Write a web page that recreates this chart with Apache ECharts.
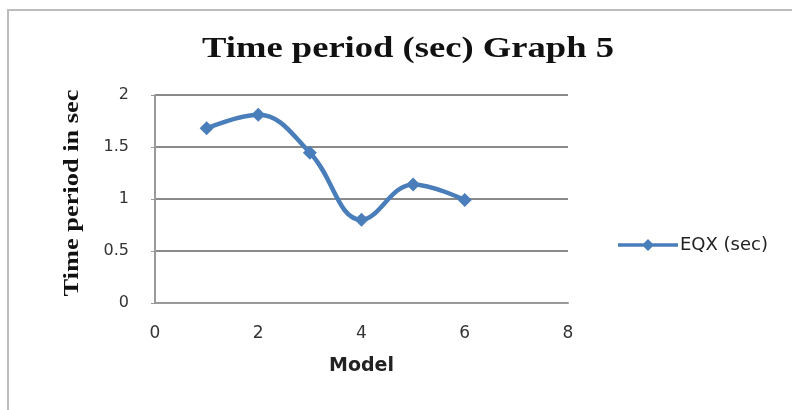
<!DOCTYPE html>
<html><head><meta charset="utf-8">
<script src="https://cdn.jsdelivr.net/npm/echarts@6/dist/echarts.min.js"></script>
<style>html,body{margin:0;padding:0;background:#fff}#c{width:792px;height:410px}</style>
</head><body><div id="c"></div>
<script>
const models = [1, 2, 3, 4, 5, 6];
const eqx = [1.68, 1.81, 1.445, 0.80, 1.14, 0.99];
const seriesName = 'EQX (sec)';
const titleText = 'Time period (sec) Graph 5';
const yName = 'Time period in sec';
const xName = 'Model';

const color = '#4a7ebb';
const chart = echarts.init(document.getElementById('c'), null, {renderer: 'canvas'});
chart.setOption({
  animation: false,
  backgroundColor: '#fff',
  graphic: [
    {type: 'rect', shape: {x: 8, y: 10, width: 800, height: 420},
     style: {fill: 'none', stroke: '#bdbdbd', lineWidth: 2}, silent: true},
    {type: 'text', x: 408, y: 49, scaleX: 1.22, silent: true,
     style: {text: titleText, align: 'center', verticalAlign: 'middle',
             font: 'bold 30px "Liberation Serif"', fill: '#111'}},
    {type: 'text', x: 72, y: 193, rotation: Math.PI / 2, scaleX: 1.2, silent: true,
     style: {text: yName, align: 'center', verticalAlign: 'middle',
             font: 'bold 22px "Liberation Serif"', fill: '#111'}}
  ],
  legend: {
    left: 613, top: 231, itemWidth: 60, itemHeight: 12,
    data: [{name: seriesName, icon: 'path://M0,4.2 L60,4.2 L60,7.8 L0,7.8 Z M30,0 L36,6 L30,12 L24,6 Z'}],
    textStyle: {fontFamily: 'DejaVu Sans', fontSize: 18, color: '#222', padding: [0, 0, 0, -3]}
  },
  grid: {left: 155, top: 95, width: 413, height: 208, containLabel: false},
  xAxis: {
    type: 'value', min: 0, max: 8, interval: 2,
    name: xName, nameLocation: 'middle', nameGap: 28,
    nameTextStyle: {fontFamily: 'DejaVu Sans', fontWeight: 'bold', fontSize: 19, color: '#222', padding: [26, 0, 0, 0]},
    axisLine: {show: true, lineStyle: {color: '#999', width: 2}},
    axisTick: {show: false},
    axisLabel: {fontFamily: 'DejaVu Sans', fontSize: 17, color: '#333', margin: 22},
    splitLine: {show: false}
  },
  yAxis: {
    type: 'value', min: 0, max: 2, interval: 0.5,
    axisLine: {show: true, lineStyle: {color: '#999', width: 2}},
    axisTick: {show: true, length: 4, inside: false, lineStyle: {color: '#999'}},
    axisLabel: {fontFamily: 'DejaVu Sans', fontSize: 16, color: '#333', margin: 26},
    splitLine: {show: true, lineStyle: {color: '#8a8a8a', width: 2}}
  },
  series: [{
    name: seriesName, type: 'line', smooth: 0.4,
    data: models.map((m, i) => [m, eqx[i]]),
    symbol: 'diamond', symbolSize: 14,
    lineStyle: {color: color, width: 4.5},
    itemStyle: {color: color}
  }]
});
</script></body></html>
